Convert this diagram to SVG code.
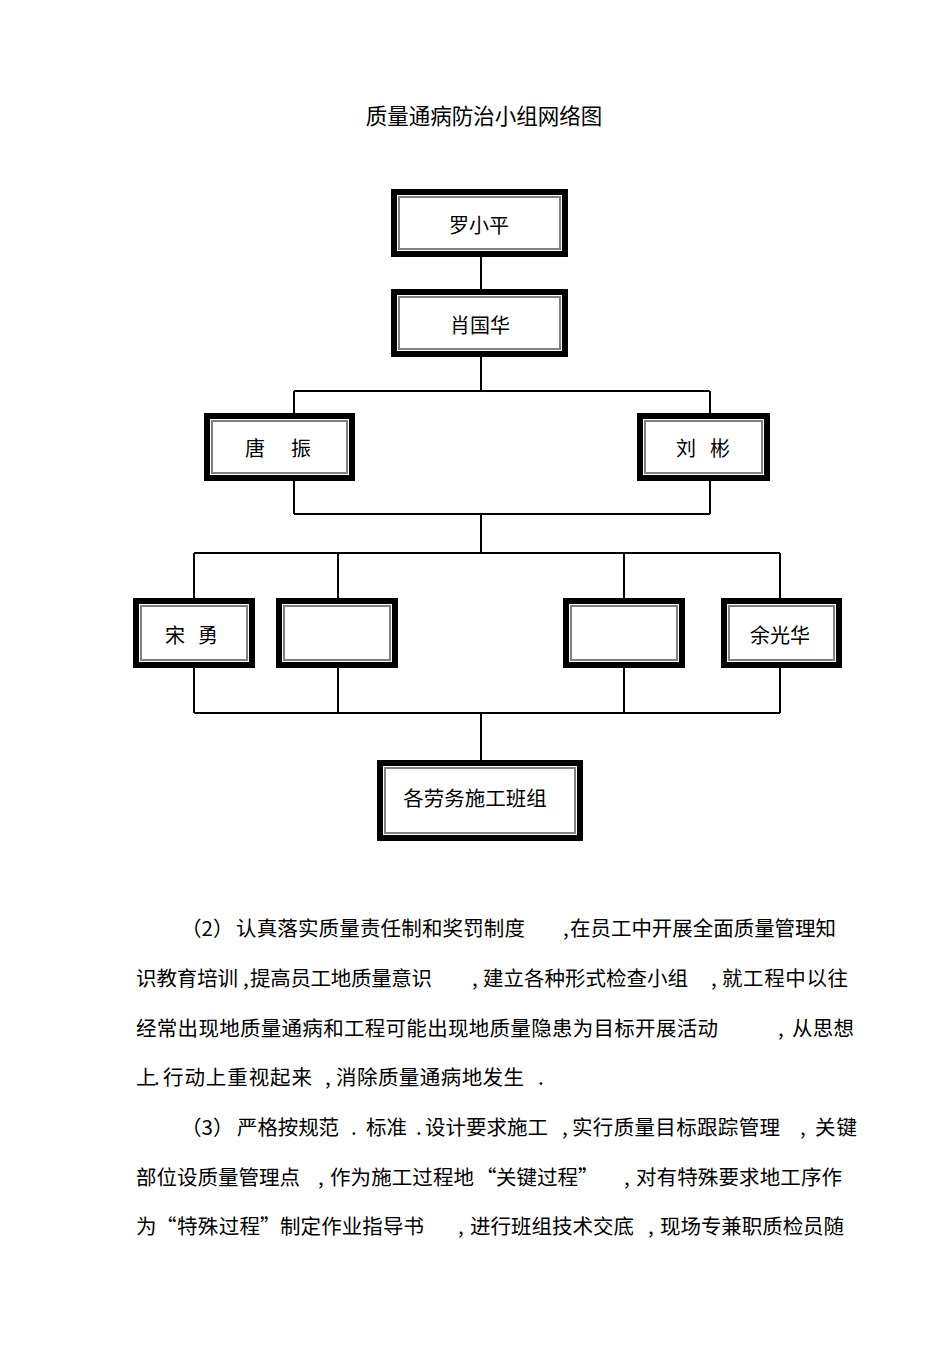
<svg xmlns="http://www.w3.org/2000/svg" width="950" height="1345" viewBox="0 0 950 1345">
<style>
.t{font-family:"Noto Sans CJK SC","Noto Sans",sans-serif;font-size:20.5px;fill:#000}
.n{font-family:"Noto Sans CJK SC","Noto Sans",sans-serif;font-size:20px;fill:#000}
.ttl{font-family:"Noto Sans CJK SC","Noto Sans",sans-serif;font-size:21.5px;fill:#000}
.ob{fill:#fff;stroke:#000;stroke-width:6}
.ib{fill:none;stroke:#808080;stroke-width:2}
.c{stroke:#000;stroke-width:2;fill:none}
</style>
<rect width="950" height="1345" fill="#fff"/>
<text class="ttl" x="484" y="124" text-anchor="middle">质量通病防治小组网络图</text>

<g id="connectors">
<path class="c" d="M481 257V289 M481 357V391 M294 391H710 M294 391V413 M710 391V413 M294 481V514 M710 481V514 M294 514H710 M481 514V553 M194 553H780 M194 553V598 M338 553V598 M624 553V598 M780 553V598 M194 668V713 M338 668V713 M624 668V713 M780 668V713 M194 713H780 M481 713V760"/>
</g>

<g id="n1">
<rect class="ob" x="394" y="192" width="171" height="62"/>
<rect class="ib" x="399" y="197" width="161" height="52"/>
<text class="n" x="479" y="233" text-anchor="middle">罗小平</text>
</g>
<g id="n2">
<rect class="ob" x="394" y="292" width="171" height="62"/>
<rect class="ib" x="399" y="297" width="161" height="52"/>
<text class="n" x="480" y="333" text-anchor="middle">肖国华</text>
</g>
<g id="n3">
<rect class="ob" x="207" y="416" width="145" height="62"/>
<rect class="ib" x="212" y="421" width="135" height="52"/>
<text class="n" x="245" y="456">唐</text>
<text class="n" x="291" y="456">振</text>
</g>
<g id="n4">
<rect class="ob" x="640" y="416" width="127" height="62"/>
<rect class="ib" x="645" y="421" width="117" height="52"/>
<text class="n" x="676" y="456">刘</text>
<text class="n" x="710" y="456">彬</text>
</g>
<g id="n5">
<rect class="ob" x="136" y="601" width="116" height="64"/>
<rect class="ib" x="141" y="606" width="106" height="54"/>
<text class="n" x="165" y="643">宋</text>
<text class="n" x="198" y="643">勇</text>
</g>
<g id="n6">
<rect class="ob" x="279" y="601" width="116" height="64"/>
<rect class="ib" x="284" y="606" width="106" height="54"/>
</g>
<g id="n7">
<rect class="ob" x="566" y="601" width="116" height="64"/>
<rect class="ib" x="571" y="606" width="106" height="54"/>
</g>
<g id="n8">
<rect class="ob" x="724" y="601" width="115" height="64"/>
<rect class="ib" x="729" y="606" width="105" height="54"/>
<text class="n" x="780" y="643" text-anchor="middle">余光华</text>
</g>
<g id="n9">
<rect class="ob" x="380" y="763" width="200" height="75"/>
<rect class="ib" x="385" y="768" width="190" height="65"/>
<text class="n" x="475" y="806" text-anchor="middle" style="font-size:20.5px">各劳务施工班组</text>
</g>

<g id="paragraph">
<text class="t" x="181" y="936">（2）</text>
<text class="t" x="236" y="936" textLength="289">认真落实质量责任制和奖罚制度</text>
<text class="t" x="563" y="936">,</text>
<text class="t" x="570" y="936" textLength="266">在员工中开展全面质量管理知</text>

<text class="t" x="136" y="986" textLength="102">识教育培训</text>
<text class="t" x="243" y="986">,</text>
<text class="t" x="250" y="986" textLength="182">提高员工地质量意识</text>
<text class="t" x="472" y="986">,</text>
<text class="t" x="483" y="986" textLength="205">建立各种形式检查小组</text>
<text class="t" x="711" y="986">,</text>
<text class="t" x="722" y="986" textLength="126">就工程中以往</text>

<text class="t" x="136" y="1036" textLength="582">经常出现地质量通病和工程可能出现地质量隐患为目标开展活动</text>
<text class="t" x="778" y="1036">,</text>
<text class="t" x="792" y="1036" textLength="62">从思想</text>

<text class="t" x="136" y="1085">上</text>
<text class="t" x="154" y="1085">.</text>
<text class="t" x="163" y="1085" textLength="149">行动上重视起来</text>
<text class="t" x="325" y="1085">,</text>
<text class="t" x="336" y="1085" textLength="188">消除质量通病地发生</text>
<text class="t" x="538" y="1085">.</text>

<text class="t" x="181" y="1135">（3）</text>
<text class="t" x="237" y="1135" textLength="102">严格按规范</text>
<text class="t" x="351" y="1135">.</text>
<text class="t" x="366" y="1135" textLength="41">标准</text>
<text class="t" x="416" y="1135">.</text>
<text class="t" x="425" y="1135" textLength="123">设计要求施工</text>
<text class="t" x="562" y="1135">,</text>
<text class="t" x="572" y="1135" textLength="208">实行质量目标跟踪管理</text>
<text class="t" x="800" y="1135">,</text>
<text class="t" x="815" y="1135" textLength="42">关键</text>

<text class="t" x="136" y="1185" textLength="164">部位设质量管理点</text>
<text class="t" x="318" y="1185">,</text>
<text class="t" x="330" y="1185" textLength="144">作为施工过程地</text>
<text class="t" x="476" y="1185">“</text>
<text class="t" x="496" y="1185" textLength="82">关键过程</text>
<text class="t" x="578" y="1185">”</text>
<text class="t" x="624" y="1185">,</text>
<text class="t" x="636" y="1185" textLength="206">对有特殊要求地工序作</text>

<text class="t" x="136" y="1234">为</text>
<text class="t" x="156" y="1234">“</text>
<text class="t" x="177" y="1234" textLength="83">特殊过程</text>
<text class="t" x="260" y="1234">”</text>
<text class="t" x="280" y="1234" textLength="144">制定作业指导书</text>
<text class="t" x="458" y="1234">,</text>
<text class="t" x="470" y="1234" textLength="164">进行班组技术交底</text>
<text class="t" x="648" y="1234">,</text>
<text class="t" x="660" y="1234" textLength="184">现场专兼职质检员随</text>
</g>
</svg>
